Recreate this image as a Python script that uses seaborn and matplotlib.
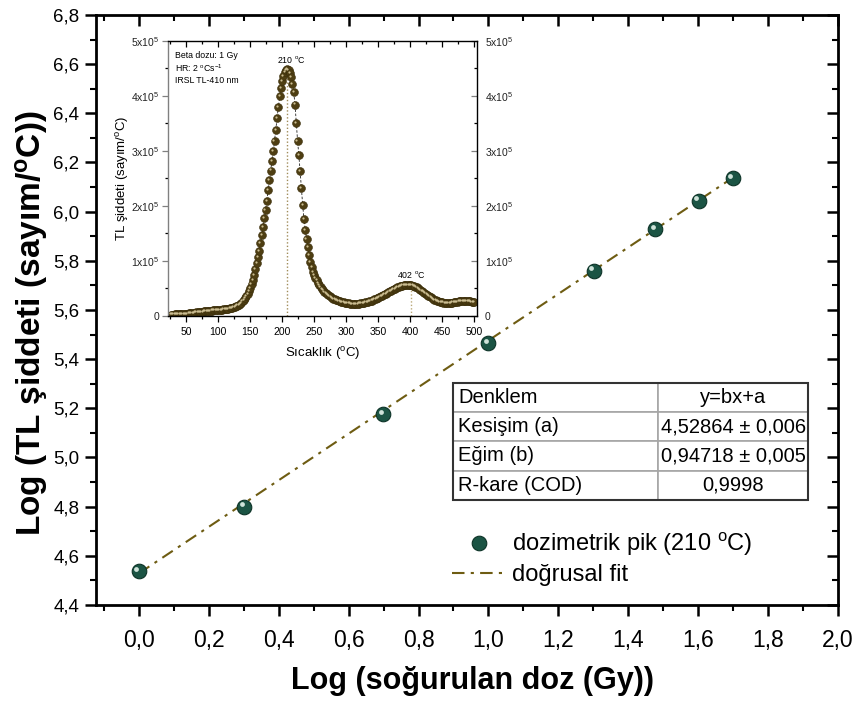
import numpy as np
import matplotlib
matplotlib.use("Agg")
import matplotlib.pyplot as plt
import matplotlib.lines as mlines
import seaborn as sns
from matplotlib.ticker import MultipleLocator, FuncFormatter
from matplotlib.transforms import offset_copy
from matplotlib.lines import Line2D
from matplotlib.patches import Rectangle

# ---- data: main plot (log dose vs log TL) ----
log_dose = [0.0, 0.30103, 0.69897, 1.0, 1.30103, 1.47712, 1.60206, 1.69897]
log_tl = [4.538, 4.800, 5.175, 5.465, 5.760, 5.929, 6.045, 6.135]

# fit reported in the table: y = b x + a
fit_a = 4.52864
fit_b = 0.94718

table_rows = [
    ["Denklem", "y=bx+a"],
    ["Kesişim (a)", "4,52864 \u00b1 0,006"],
    ["Eğim (b)", "0,94718 \u00b1 0,005"],
    ["R-kare (COD)", "0,9998"],
]

# ---- data: inset glow curve (temperature in C, counts in 1e3 sayım/C) ----
glow_temp = np.arange(26, 501, 2)
glow_counts_k = [
    2.0, 2.0, 2.1, 2.2, 2.3, 2.4, 2.5, 2.6, 2.8, 3.0, 3.1, 3.3, 3.5, 3.7, 4.0, 4.3, 4.6, 5.0, 5.3,
    5.6, 5.9, 6.2, 6.5, 6.8, 7.1, 7.4, 7.7, 8.0, 8.3, 8.6, 8.9, 9.1, 9.3, 9.5, 9.7, 9.9, 10.1, 10.3,
    10.5, 10.7, 11.0, 11.3, 11.6, 11.9, 12.3, 12.7, 13.1, 13.6, 14.2, 15.0, 16.0, 17.2, 18.5, 19.8,
    21.0, 23.0, 26.0, 29.0, 32.0, 36.0, 40.0, 44.0, 50.0,
    57, 65, 74, 84, 95, 107, 118, 132, 146, 161, 177, 192, 208, 228, 247, 264, 281, 299, 318, 338,
    360, 380, 399, 414, 426,
    436, 443, 447, 448, 446, 442, 434, 421, 406, 384, 350, 318, 292, 263, 232, 201, 176, 156, 140,
    124, 111, 98, 88, 80, 74,
    69, 64, 59, 55, 52, 49, 46, 43, 41, 39, 37, 35.5, 34, 32.5, 31, 30, 29, 28, 27, 26, 25.3, 24.6,
    24.0, 23.5, 23.0,
    22.6, 22.3, 22.0, 21.8, 21.7, 21.6, 21.6, 21.7, 21.8, 22.0, 22.3, 22.6, 23.0, 23.5, 24.0, 24.6,
    25.3, 26.0, 26.8, 27.6, 28.5, 29.5, 30.5, 31.6, 32.7,
    33.9, 35.1, 36.3, 37.5, 38.8, 40.1, 41.4, 42.7, 44.0, 45.3, 46.6, 47.8, 49.0, 50.2, 51.3, 52.3,
    53.2, 54.0, 54.7, 55.3, 55.7, 56.0, 56.1, 56.0, 55.8,
    55.4, 54.8, 54.0, 53.0, 51.8, 50.4, 48.9, 47.3, 45.6, 43.8, 42.0, 40.2, 38.4, 36.6, 34.9, 33.3,
    31.8, 30.4, 29.1, 28.0, 27.0, 26.1, 25.4, 24.8, 24.3,
    23.9, 23.6, 23.4, 23.3, 23.3, 23.4, 23.6, 23.9, 24.3, 24.7, 25.1, 25.5, 25.9, 26.3, 26.6, 26.9,
    27.1, 27.2, 27.2, 27.0, 26.6, 26.0, 25.4, 25.0, 24.8,
]
glow_counts = np.array(glow_counts_k) * 1e3

peak_main = (208, 448e3)
peak_high = (402, 55.4e3)

# ---- style ----
sns.set_theme(style="ticks")
plt.rcParams["font.family"] = ["Liberation Sans", "DejaVu Sans"]
plt.rcParams["mathtext.fontset"] = "custom"
plt.rcParams["mathtext.rm"] = "Liberation Sans"
plt.rcParams["mathtext.it"] = "Liberation Sans:italic"
plt.rcParams["mathtext.bf"] = "Liberation Sans:bold"
for k in ["text.color", "axes.labelcolor", "xtick.color", "ytick.color", "axes.edgecolor"]:
    plt.rcParams[k] = "black"

green = "#1b5444"
green_edge = "#0d3327"
fit_color = "#6e5c12"
brown = "#4e3e12"
dash_style = (0, (6, 3, 1.5, 3))


def ticks_in_on_far_side(a, right_color=None):
    # bottom/left ticks point out, top/right ticks point in
    for t in a.xaxis.get_major_ticks() + a.xaxis.get_minor_ticks():
        t.tick2line.set_marker(mlines.TICKDOWN)
    for t in a.yaxis.get_major_ticks() + a.yaxis.get_minor_ticks():
        t.tick2line.set_marker(mlines.TICKLEFT)
        if right_color:
            t.tick2line.set_color(right_color)


fig = plt.figure(figsize=(8.56, 7.02), dpi=100)
ax = fig.add_axes([0.1121, 0.1382, 0.8668, 0.8405])

# fit line
fit_x = np.array([log_dose[0], log_dose[-1]])
ax.plot(fit_x, fit_a + fit_b * fit_x, color=fit_color, lw=1.5, ls=dash_style, zorder=2)

# data points (with a small highlight to mimic the shaded spheres)
sns.scatterplot(x=log_dose, y=log_tl, ax=ax, s=110, color=green, edgecolor=green_edge,
                linewidth=0.8, zorder=3)
hl = offset_copy(ax.transData, fig=fig, x=-1.8, y=1.8, units="points")
ax.scatter(log_dose, log_tl, s=12, color="#cfe3da", linewidths=0, transform=hl, zorder=4)

ax.set_xlim(-0.123, 2.0)
ax.set_ylim(4.4, 6.8)
comma = FuncFormatter(lambda v, p: f"{v:.1f}".replace(".", ","))
ax.xaxis.set_major_locator(MultipleLocator(0.2))
ax.xaxis.set_minor_locator(MultipleLocator(0.1))
ax.yaxis.set_major_locator(MultipleLocator(0.2))
ax.yaxis.set_minor_locator(MultipleLocator(0.1))
ax.xaxis.set_major_formatter(comma)
ax.yaxis.set_major_formatter(comma)
for s in ax.spines.values():
    s.set_linewidth(2)
    s.set_color("black")
ax.tick_params(which="both", top=True, right=True)
ax.tick_params(which="major", direction="out", length=8, width=1.8, color="black")
ax.tick_params(which="minor", direction="out", length=4.5, width=1.5, color="black")
ax.tick_params(axis="x", labelsize=16.5, pad=9)
ax.tick_params(axis="y", labelsize=13.5, pad=4)

ax.set_xlabel(r"Log (soğurulan doz (Gy))", fontsize=22, fontweight="bold")
ax.set_ylabel(r"Log (TL şiddeti (sayım/$^\mathbf{o}$C))", fontsize=24, fontweight="bold")
ax.xaxis.set_label_coords(0.507, -0.103)
ax.yaxis.set_label_coords(-0.062, 0.478)

# legend
handles = [
    Line2D([], [], marker="o", ls="none", markersize=10.5, mfc=green, mec=green_edge, mew=0.8),
    Line2D([], [], color=fit_color, lw=1.5, ls=dash_style),
]
labels = [r"dozimetrik pik (210 $^\mathrm{o}$C)", "doğrusal fit"]
ax.legend(handles, labels, loc="upper left", bbox_to_anchor=(0.4798, 0.125), frameon=False,
          fontsize=17, borderpad=0, borderaxespad=0, handlelength=2.25, handletextpad=0.3,
          labelspacing=0.25)

# table
tb = [0.4815, 0.178, 0.4784, 0.1988]
tab = ax.table(cellText=table_rows, colWidths=[0.577, 0.423], bbox=tb, zorder=5)
tab.auto_set_font_size(False)
for (r, c), cell in tab.get_celld().items():
    cell.set_edgecolor("#a6a6a6")
    cell.set_linewidth(1.2)
    cell.set_facecolor("white")
    cell.get_text().set_fontsize(14.5)
    cell.get_text().set_color("black")
    if c == 0:
        cell._loc = "left"
        cell.PAD = 0.025
        cell.get_text().set_ha("left")
    else:
        cell._loc = "center"
        cell.get_text().set_ha("center")
ax.add_patch(Rectangle((tb[0], tb[1]), tb[2], tb[3], transform=ax.transAxes, fill=False,
                       ec="#333333", lw=1.5, zorder=20))

# ---- inset: glow curve ----
axi = fig.add_axes([0.1959, 0.5503, 0.361, 0.3917])
axi.plot(glow_temp, glow_counts, color="#222222", lw=0.6, ls=(0, (3, 2)), zorder=1)
sns.scatterplot(x=glow_temp, y=glow_counts, ax=axi, s=32, color=brown, edgecolor="#3a2e0b",
                linewidth=0.4, zorder=2)
hli = offset_copy(axi.transData, fig=fig, x=-0.8, y=0.8, units="points")
axi.scatter(glow_temp, glow_counts, s=2.5, color="#cbbd92", linewidths=0, transform=hli, zorder=3)

axi.plot([peak_main[0]] * 2, [0, peak_main[1]], color="#a08c5a", lw=1.0, ls=(0, (1, 1.5)), zorder=0)
axi.plot([peak_high[0]] * 2, [0, peak_high[1]], color="#b9a878", lw=1.0, ls=(0, (1, 1.5)), zorder=0)

axi.set_xlim(21, 504)
axi.set_ylim(0, 5e5)
axi.xaxis.set_major_locator(MultipleLocator(50))
axi.xaxis.set_minor_locator(MultipleLocator(25))
axi.yaxis.set_major_locator(MultipleLocator(1e5))
axi.yaxis.set_minor_locator(MultipleLocator(0.5e5))
sci = FuncFormatter(lambda v, p: "0" if v == 0 else r"%dx10$^5$" % round(v / 1e5))
axi.yaxis.set_major_formatter(sci)
axi.tick_params(which="both", top=True, right=True, labelright=True)
axi.tick_params(which="major", direction="out", length=4, width=0.9, labelsize=7.5, pad=2)
axi.tick_params(axis="x", pad=4)
axi.tick_params(which="minor", direction="out", length=2.5, width=0.9)
axi.tick_params(axis="y", colors="#808080", labelcolor="#222222")
for s in axi.spines.values():
    s.set_linewidth(1.0)
    s.set_color("black")
axi.spines["left"].set_color("#808080")

axi.set_xlabel(r"Sıcaklık ($^\mathrm{o}$C)", fontsize=9.5, labelpad=6)
axi.set_ylabel(r"TL şiddeti (sayım/$^\mathrm{o}$C)", fontsize=9.5, labelpad=0)

axi.text(0.024, 0.948, "Beta dozu: 1 Gy", transform=axi.transAxes, fontsize=6.3, va="center")
axi.text(0.024, 0.902, r"HR: 2 $^\mathrm{o}$Cs$^{-1}$", transform=axi.transAxes, fontsize=6.3,
         va="center")
axi.text(0.024, 0.855, "IRSL TL-410 nm", transform=axi.transAxes, fontsize=6.3, va="center")
axi.text(214, 4.66e5, r"210 $^\mathrm{o}$C", fontsize=6.3, ha="center", va="center")
axi.text(402, 0.74e5, r"402 $^\mathrm{o}$C", fontsize=6.3, ha="center", va="center")

fig.canvas.draw()
ticks_in_on_far_side(ax)
ticks_in_on_far_side(axi, right_color="black")

fig.savefig("out.png", dpi=100)
